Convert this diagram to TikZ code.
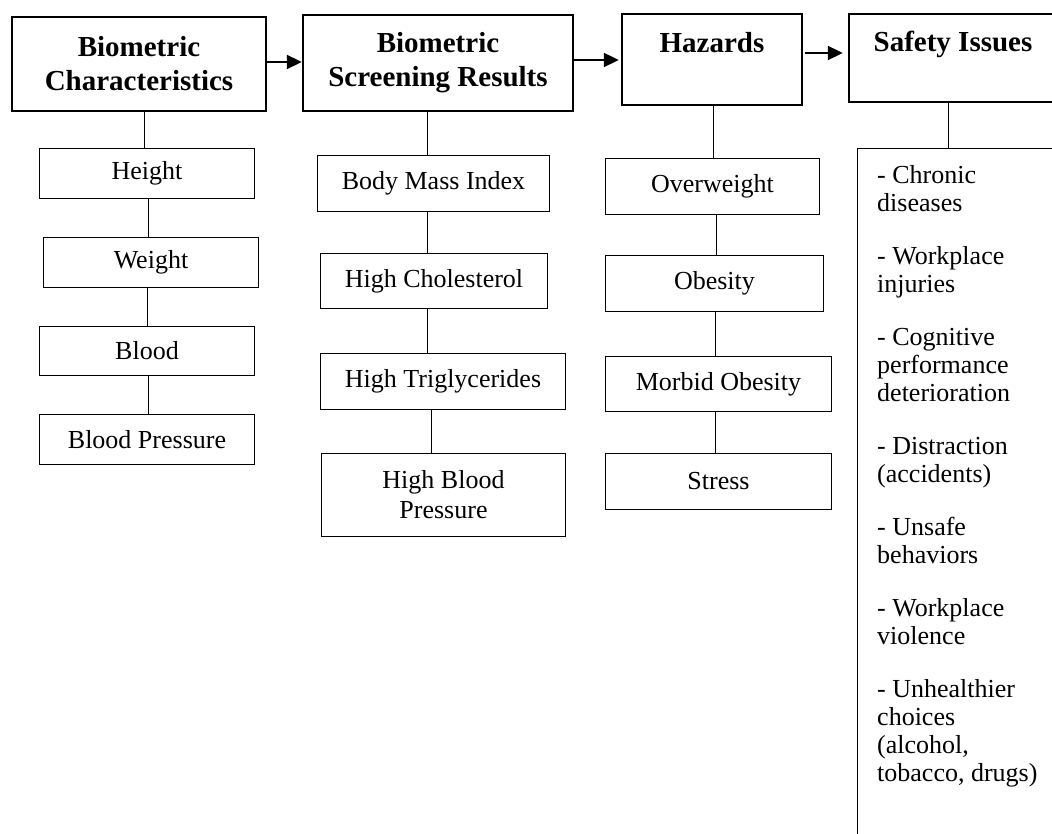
\documentclass[tikz,border=0pt]{standalone}
\usepackage{fontspec}
\setmainfont{Liberation Serif}
\usetikzlibrary{arrows.meta}
\begin{document}
\begin{tikzpicture}[x=1pt,y=-1pt,
  headbox/.style={draw, line width=2.4pt, align=center, inner sep=0pt,
    font=\bfseries\fontsize{29}{34}\selectfont},
  itembox/.style={draw, line width=1pt, align=center, inner sep=0pt,
    font=\fontsize{26}{30}\selectfont},
  link/.style={line width=1pt},
  flow/.style={line width=2pt, -{Triangle[length=15pt,width=14pt]}},
]
\useasboundingbox (0,0) rectangle (1052,834);
\clip (0,0) rectangle (1052,834);

% header boxes
\node[headbox, minimum width=254pt, minimum height=94pt] (b1) at (139,64) {Biometric\\Characteristics};
\node[headbox, minimum width=270pt, minimum height=96pt] (b2) at (438,63) {Biometric\\Screening Results};
\node[headbox, minimum width=180pt, minimum height=91pt] (b3) at (712,59.5) {Hazards\\\phantom{H}};
\node[headbox, minimum width=208pt, minimum height=88pt] (b4) at (953,58) {Safety Issues\\\phantom{H}};

% arrows
\draw[flow] ([yshift=2pt]b1.east) -- ([yshift=1pt]b2.west);
\draw[flow, shorten >=2pt] ([yshift=3pt]b2.east) -- ([yshift=-0.5pt]b3.west);
\draw[flow, shorten >=5pt, shorten <=2pt] ([yshift=6.5pt]b3.east) -- ([yshift=5pt]b4.west);

% column 1
\node[itembox, minimum width=215pt, minimum height=50pt] (h)  at (147,173.5) {Height};
\node[itembox, minimum width=215pt, minimum height=50pt] (w)  at (151,262.5) {Weight};
\node[itembox, minimum width=215pt, minimum height=49pt] (bl) at (147,351) {Blood};
\node[itembox, minimum width=215pt, minimum height=50pt] (bp) at (147,439.5) {Blood Pressure};

% column 2
\node[itembox, minimum width=232pt, minimum height=56pt] (bmi) at (433.5,183.5) {Body Mass Index};
\node[itembox, minimum width=227pt, minimum height=55pt] (hc)  at (434,281) {High Cholesterol};
\node[itembox, minimum width=245pt, minimum height=56pt] (ht)  at (443,381.5) {High Triglycerides};
\node[itembox, minimum width=244pt, minimum height=83pt] (hbp) at (443.5,495) {High Blood\\Pressure};

% column 3
\node[itembox, minimum width=214pt, minimum height=56pt] (ow) at (712.5,186.5) {Overweight};
\node[itembox, minimum width=218pt, minimum height=56pt] (ob) at (714.5,283.5) {Obesity};
\node[itembox, minimum width=226pt, minimum height=55pt] (mo) at (718.5,384) {Morbid Obesity};
\node[itembox, minimum width=226pt, minimum height=56pt] (st) at (718.5,481.5) {Stress};

% column 4 list box
\node[draw, line width=1pt, anchor=north west, inner sep=0pt,
      minimum width=260pt, minimum height=720pt] (lst) at (857,148) {};
\node[anchor=north west, align=left, inner sep=0pt,
      font=\fontsize{26}{28}\selectfont] (lsttext) at (877,165)
  {- Chronic\\diseases\\[25pt]- Workplace\\injuries\\[25pt]- Cognitive\\performance\\deterioration\\[25pt]- Distraction\\(accidents)\\[25pt]- Unsafe\\behaviors\\[25pt]- Workplace\\violence\\[25pt]- Unhealthier\\choices\\(alcohol,\\tobacco, drugs)};

% connectors
\draw[link] (b1.south -| 144,0) -- (h.north -| 144,0);
\draw[link] (h.south -| 148,0) -- (w.north -| 148,0);
\draw[link] (w.south -| 147,0) -- (bl.north -| 147,0);
\draw[link] (bl.south -| 148,0) -- (bp.north -| 148,0);

\draw[link] (b2.south -| 427,0) -- (bmi.north -| 427,0);
\draw[link] (bmi.south -| 427,0) -- (hc.north -| 427,0);
\draw[link] (hc.south -| 427,0) -- (ht.north -| 427,0);
\draw[link] (ht.south -| 431,0) -- (hbp.north -| 431,0);

\draw[link] (b3.south -| 713,0) -- (ow.north -| 713,0);
\draw[link] (ow.south -| 716,0) -- (ob.north -| 716,0);
\draw[link] (ob.south -| 715,0) -- (mo.north -| 715,0);
\draw[link] (mo.south -| 715,0) -- (st.north -| 715,0);

\draw[link] (b4.south -| 948,0) -- (lst.north -| 948,0);
\end{tikzpicture}
\end{document}
